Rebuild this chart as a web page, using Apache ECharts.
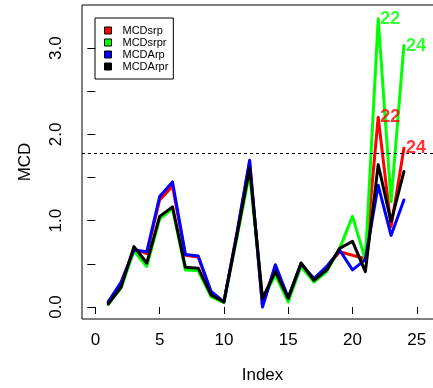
<!DOCTYPE html>
<html><head><meta charset="utf-8">
<script src="https://cdn.jsdelivr.net/npm/echarts@6/dist/echarts.min.js"></script>
<style>html,body{margin:0;padding:0;background:#fff}#c{width:433px;height:388px}</style>
</head><body><div id="c"></div>
<script>
const indexValues = [1,2,3,4,5,6,7,8,9,10,11,12,13,14,15,16,17,18,19,20,21,22,23,24];
const mcdSrp   = [0.05,0.27,0.67,0.62,1.24,1.40,0.60,0.58,0.17,0.06,0.84,1.68,0.02,0.47,0.10,0.50,0.32,0.46,0.64,0.60,0.56,2.20,0.93,1.84];
const mcdSrpr  = [0.03,0.22,0.65,0.47,1.02,1.14,0.43,0.42,0.12,0.05,0.80,1.55,0.09,0.37,0.06,0.47,0.29,0.41,0.68,1.05,0.55,3.34,1.22,3.03];
const mcdArp   = [0.06,0.29,0.66,0.64,1.28,1.45,0.61,0.59,0.18,0.06,0.85,1.70,0.00,0.49,0.11,0.50,0.33,0.47,0.66,0.43,0.55,1.41,0.83,1.24];
const mcdArpr  = [0.035,0.23,0.70,0.51,1.05,1.16,0.46,0.45,0.14,0.06,0.82,1.61,0.10,0.41,0.10,0.51,0.31,0.43,0.68,0.76,0.41,1.65,0.99,1.57];
const seriesNames = ['MCDsrp','MCDsrpr','MCDArp','MCDArpr'];
const seriesColors = ['#ff0000','#00ff00','#0000ff','#000000'];
const labelledIdx = [22, 24];
const cutoff = 1.78;
const xTicks = [0,5,10,15,20,25];
const yTicks = [0,0.5,1,1.5,2,2.5,3];
const yLabels = [0,1,2,3];

const font = 'Liberation Sans, Arial, Helvetica, sans-serif';
const allData = [mcdSrp, mcdSrpr, mcdArp, mcdArpr];
const withLabels = [true, true, false, false];

const series = allData.map((vals, k) => ({
  name: seriesNames[k],
  type: 'line',
  showSymbol: false,
  symbol: 'none',
  z: 2 + k,
  itemStyle: { color: seriesColors[k] },
  lineStyle: { color: seriesColors[k], width: 3, join: 'round', cap: 'round' },
  data: vals.map((v, i) => [indexValues[i], v]),
  markLine: k === 3 ? {
    silent: true, symbol: 'none', label: { show: false },
    lineStyle: { color: '#000', type: [3, 3], width: 1 },
    data: [{ yAxis: cutoff }]
  } : undefined
}));

// point labels drawn on top of all lines
allData.forEach((vals, k) => {
  if (!withLabels[k]) return;
  series.push({
    name: seriesNames[k] + '_labels',
    type: 'scatter',
    symbolSize: 0,
    z: 20,
    silent: true,
    itemStyle: { color: seriesColors[k] },
    label: { show: true, position: 'right', distance: 2, formatter: p => String(p.value[0]),
      color: seriesColors[k], fontWeight: 'bold', fontSize: 18, fontFamily: font },
    data: labelledIdx.map(ix => [ix, vals[indexValues.indexOf(ix)]])
  });
});

const chart = echarts.init(document.getElementById('c'), null, { renderer: 'canvas' });
chart.setOption({
  animation: false,
  backgroundColor: '#fff',
  grid: { left: 82, top: 5, width: 361, height: 314, outerBoundsMode: 'none', containLabel: false,
    show: true, borderColor: '#000', borderWidth: 1, backgroundColor: 'transparent' },
  legend: {
    left: 95, top: 18, orient: 'vertical', icon: 'rect', itemWidth: 7, itemHeight: 7, itemGap: 1,
    padding: [7, 5, 7, 9], borderColor: '#000', borderWidth: 1,
    itemStyle: { borderColor: '#000', borderWidth: 1 },
    textStyle: { fontSize: 11, lineHeight: 11, color: '#000', fontFamily: font, padding: [0, 0, 0, 6] },
    data: seriesNames
  },
  xAxis: {
    type: 'value', min: -1.04, max: 27.04,
    name: 'Index', nameLocation: 'middle', nameGap: 48,
    nameTextStyle: { fontSize: 17, color: '#000', fontFamily: font },
    axisLine: { show: false },
    splitLine: { show: false },
    axisTick: { show: true, inside: false, length: 7, customValues: xTicks, lineStyle: { color: '#000' } },
    axisLabel: { customValues: xTicks, fontSize: 17, color: '#000', margin: 13, fontFamily: font }
  },
  yAxis: {
    type: 'value', min: -0.139, max: 3.50,
    name: 'MCD', nameLocation: 'middle', nameGap: 48,
    nameTextStyle: { fontSize: 17, color: '#000', fontFamily: font },
    axisLine: { show: false },
    splitLine: { show: false },
    axisTick: { show: true, inside: false, length: 8, customValues: yTicks, lineStyle: { color: '#000' } },
    axisLabel: { customValues: yLabels, rotate: 90, fontSize: 17, color: '#000', margin: 17, fontFamily: font,
      formatter: v => Number(v).toFixed(1) }
  },
  series: series
});
</script></body></html>
